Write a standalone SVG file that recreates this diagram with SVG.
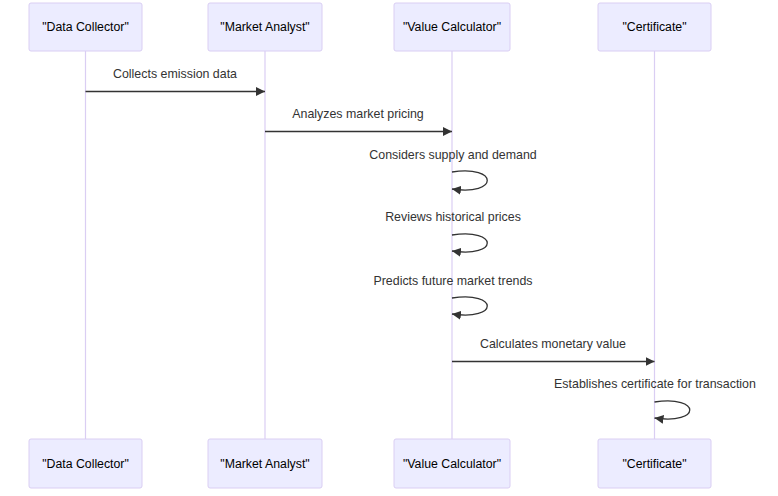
<svg xmlns="http://www.w3.org/2000/svg" width="778" height="496" viewBox="0 0 778 496">
<style>
.actor{fill:#ECECFF;stroke:#DACEF3;stroke-width:1}
.atext{font-family:"Liberation Sans",Arial,sans-serif;font-size:12.3px;fill:#000;text-anchor:middle;dominant-baseline:central}
.life{stroke:#DACEF3;stroke-width:1.2}
.msg{stroke:#333;stroke-width:1.3;fill:none}
.mtext{font-family:"Liberation Sans",Arial,sans-serif;font-size:12.4px;fill:#333;text-anchor:middle}
</style>
<defs>
<marker id="ah" viewBox="0 0 10 10" refX="10" refY="5" markerWidth="9" markerHeight="9" markerUnits="userSpaceOnUse" orient="auto">
<path d="M0,0 L10,5 L0,10 z" fill="#333"/>
</marker>
</defs>
<rect width="778" height="496" fill="#fff"/>
<g id="lifelines">
<line class="life" x1="85.5" y1="51" x2="85.5" y2="439"/>
<line class="life" x1="265" y1="51" x2="265" y2="439"/>
<line class="life" x1="452" y1="51" x2="452" y2="439"/>
<line class="life" x1="654.5" y1="51" x2="654.5" y2="439"/>
</g>
<g id="actor-dc-top"><rect class="actor" x="29" y="3" width="113" height="48" rx="2"/><text class="atext" x="85.5" y="27">"Data Collector"</text></g>
<g id="actor-ma-top"><rect class="actor" x="208" y="3" width="114" height="48" rx="2"/><text class="atext" x="265" y="27">"Market Analyst"</text></g>
<g id="actor-vc-top"><rect class="actor" x="394" y="3" width="116" height="48" rx="2"/><text class="atext" x="452" y="27">"Value Calculator"</text></g>
<g id="actor-ce-top"><rect class="actor" x="598" y="3" width="113" height="48" rx="2"/><text class="atext" x="654.5" y="27">"Certificate"</text></g>
<g id="actor-dc-bottom"><rect class="actor" x="29" y="439" width="113" height="49" rx="2"/><text class="atext" x="85.5" y="464">"Data Collector"</text></g>
<g id="actor-ma-bottom"><rect class="actor" x="208" y="439" width="114" height="49" rx="2"/><text class="atext" x="265" y="464">"Market Analyst"</text></g>
<g id="actor-vc-bottom"><rect class="actor" x="394" y="439" width="116" height="49" rx="2"/><text class="atext" x="452" y="464">"Value Calculator"</text></g>
<g id="actor-ce-bottom"><rect class="actor" x="598" y="439" width="113" height="49" rx="2"/><text class="atext" x="654.5" y="464">"Certificate"</text></g>
<g id="messages">
<text class="mtext" x="175" y="78">Collects emission data</text>
<line class="msg" x1="85.5" y1="91.5" x2="265" y2="91.5" marker-end="url(#ah)"/>
<text class="mtext" x="358" y="118">Analyzes market pricing</text>
<line class="msg" x1="265" y1="131.5" x2="452" y2="131.5" marker-end="url(#ah)"/>
<text class="mtext" x="453" y="159">Considers supply and demand</text>
<path class="msg" d="M452,172 C499,165 499,196 452,189" marker-end="url(#ah)"/>
<text class="mtext" x="453" y="221">Reviews historical prices</text>
<path class="msg" d="M452,235 C499,228 499,258 452,251" marker-end="url(#ah)"/>
<text class="mtext" x="453" y="285">Predicts future market trends</text>
<path class="msg" d="M452,298 C499,291 499,321 452,314" marker-end="url(#ah)"/>
<text class="mtext" x="553" y="348">Calculates monetary value</text>
<line class="msg" x1="452" y1="361.5" x2="654.5" y2="361.5" marker-end="url(#ah)"/>
<text class="mtext" x="655" y="388">Establishes certificate for transaction</text>
<path class="msg" d="M654.5,402 C701.5,395 701.5,425 654.5,418" marker-end="url(#ah)"/>
</g>
</svg>
